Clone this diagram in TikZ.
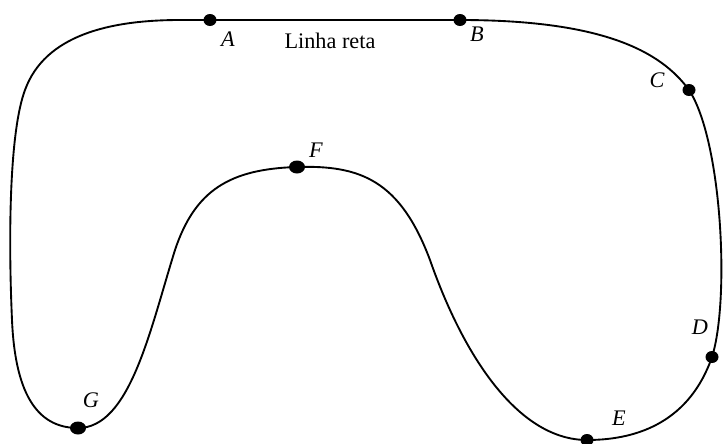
\documentclass[tikz,border=0pt]{standalone}
\usepackage{fontspec}
\setmainfont{Liberation Serif}
\begin{document}
\begin{tikzpicture}[x=0.03cm,y=-0.03cm,
  rotulo/.style={font=\fontsize{19}{21}\selectfont\itshape,inner sep=0pt}]
\useasboundingbox (0,0) rectangle (723,443);
\coordinate (A) at (210,20);
\coordinate (B) at (460,20);
\coordinate (C) at (689,90);
\coordinate (D) at (712,357);
\coordinate (E) at (587,440);
\coordinate (F) at (297,167);
\coordinate (G) at (78,428);
\draw[line width=1.6pt] (A) -- (B)
  .. controls (600,20) and (660,50) .. (C)
  .. controls (722,140) and (730,300) .. (D)
  .. controls (690,420) and (640,440) .. (E)
  .. controls (520,440) and (465,360) .. (430,260)
  .. controls (400,180) and (360,165) .. (F)
  .. controls (230,169) and (195,190) .. (175,250)
  .. controls (150,330) and (130,428) .. (G)
  .. controls (35,428) and (15,390) .. (12,320)
  .. controls (8,230) and (10,130) .. (25,90)
  .. controls (45,35) and (110,20) .. (180,20) -- cycle;
\foreach \p in {A,B,C,D,E}
  \fill (\p) ellipse (6.5 and 6);
\foreach \p in {F,G}
  \fill (\p) ellipse (8 and 6.5);
\node[rotulo] (la) at (228,39) {A};
\node[rotulo] (lb) at (477,34) {B};
\node[rotulo] (lc) at (657,80) {C};
\node[rotulo] (ld) at (700,327) {D};
\node[rotulo] (le) at (619,418) {E};
\node[rotulo] (lf) at (316,150) {F};
\node[rotulo] (lg) at (91,400) {G};
\node[font=\fontsize{19}{21}\selectfont,inner sep=0pt] (linha) at (330,41) {Linha reta};
\end{tikzpicture}
\end{document}
